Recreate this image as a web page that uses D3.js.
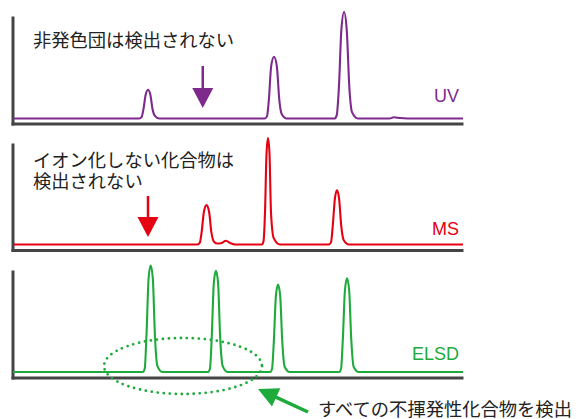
<!DOCTYPE html>
<html><head><meta charset="utf-8">
<script src="https://cdn.jsdelivr.net/npm/d3@7"></script>
<style>
html,body{margin:0;padding:0;background:#fff;}
svg{display:block;}
</style></head>
<body>
<script>
// ---- data (time in min, signal in % of panel max) ----
const uvTrace = [
  [0,0],[8.42,0],[8.58,1.5],[8.7,9],[8.84,22],[9.0,27],[9.16,22],[9.3,9],[9.46,2.5],[9.75,0],
  [16.78,0],[16.93,2],[17.06,18],[17.21,49],[17.4,58],[17.59,49],[17.75,18],[17.92,4],[18.25,0],
  [21.43,0],[21.58,3],[21.73,30],[21.89,83],[22.07,100],[22.25,83],[22.42,30],[22.6,6],[23.0,0],
  [25.1,0],[25.4,1.2],[25.8,0.4],[26.3,0],[30,0]
];
const msTrace = [
  [0,0],[12.3,0],[12.45,1.5],[12.58,12],[12.72,30],[12.9,37],[13.08,30],[13.22,12],[13.38,3],[13.6,1],
  [13.85,1.2],[14.2,3.5],[14.5,1.2],[14.8,0],
  [16.6,0],[16.7,3],[16.8,30],[16.9,85],[17.0,100],[17.1,85],[17.2,30],[17.38,6],[17.8,0],
  [21.05,0],[21.2,2],[21.32,18],[21.46,43],[21.6,51],[21.74,43],[21.88,18],[22.05,4],[22.4,0],[30,0]
];
const elsdTrace = [
  [0,0],[8.65,0],[8.78,3],[8.9,35],[9.04,88],[9.18,100],[9.32,88],[9.46,35],[9.62,6],[9.95,0],
  [13.0,0],[13.13,3],[13.25,33],[13.39,84],[13.53,95],[13.67,84],[13.81,33],[13.97,6],[14.3,0],
  [17.15,0],[17.27,3],[17.39,29],[17.53,72],[17.67,82],[17.81,72],[17.95,29],[18.11,5],[18.45,0],
  [21.75,0],[21.87,3],[21.99,31],[22.13,77],[22.27,88],[22.41,77],[22.55,31],[22.71,5],[23.05,0],[30,0]
];
const detectorLabels = ["UV","MS","ELSD"];
const noteUV = ["非発色団は検出されない"];
const noteMS = ["イオン化しない化合物は","検出されない"];
const noteELSD = "すべての不揮発性化合物を検出";
const arrowUVTime = 12.65;
const arrowMSTime = 9.0;
const ellipseTimes = [6.07, 16.6];

// ---- layout ----
const W = 579, H = 419;
const svg = d3.select("body").append("svg").attr("width", W).attr("height", H);
const x = d3.scaleLinear().domain([0,30]).range([13,463]);
const colors = {UV:"#7d2a8c", MS:"#e50012", ELSD:"#1faa3c"};
const panels = [
  {name:detectorLabels[0], data:uvTrace,   base:118.5, top:16,  axisY:123.5, labelY:102},
  {name:detectorLabels[1], data:msTrace,   base:244.5, top:143, axisY:250,   labelY:235},
  {name:detectorLabels[2], data:elsdTrace, base:372,   top:270, axisY:377.5, labelY:360}
];
const jpFont = "'Noto Sans CJK JP','Noto Sans',sans-serif";
const latinFont = "'Liberation Sans',Arial,sans-serif";

panels.forEach(p => {
  const y = d3.scaleLinear().domain([0,100]).range([p.base, p.base-106.5]);
  const frameY = d3.scaleLinear().domain([0,1]).range([p.axisY+1.5, p.top]);
  const xa = d3.scaleLinear().domain([0,30]).range([11, 463]);
  const gx = svg.append("g").attr("transform",`translate(0,${p.axisY})`)
    .call(d3.axisBottom(xa).tickValues([]).tickSizeOuter(0));
  const gy = svg.append("g").attr("transform",`translate(12.5,0)`)
    .call(d3.axisLeft(frameY).tickValues([]).tickSizeOuter(0));
  [gx,gy].forEach(g => g.select(".domain").attr("stroke","#444").attr("stroke-width",3));
  const line = d3.line().x(d=>x(d[0])).y(d=>y(d[1])).curve(d3.curveMonotoneX);
  svg.append("path").datum(p.data).attr("d",line)
    .attr("fill","none").attr("stroke",colors[p.name]).attr("stroke-width",2.1)
    .attr("stroke-linejoin","round");
  svg.append("text").attr("x",459).attr("y",p.labelY).attr("text-anchor","end")
    .attr("font-family",latinFont).attr("font-size",18).attr("fill",colors[p.name])
    .text(p.name);
});

// notes
function note(lines, x0, y0, lh){
  const t = svg.append("text").attr("font-family",jpFont).attr("font-size",18.3).attr("fill","#222");
  lines.forEach((s,i)=>t.append("tspan").attr("x",x0).attr("y",y0+i*lh).text(s));
}
note(noteUV, 33, 47, 21);
note(noteMS, 33, 167, 21);
note([noteELSD], 318, 416, 21);

// down arrows
function downArrow(px, y0, y1, color, headH, headW){
  svg.append("line").attr("x1",px).attr("x2",px).attr("y1",y0).attr("y2",y1-headH+1)
    .attr("stroke",color).attr("stroke-width",2.5);
  svg.append("path").attr("d",`M${px-headW/2},${y1-headH} L${px+headW/2},${y1-headH} L${px},${y1} Z`)
    .attr("fill",color);
}
downArrow(x(arrowUVTime), 66, 108, colors.UV, 20, 21);
downArrow(x(arrowMSTime), 196, 237, colors.MS, 20, 21);

// dotted ellipse
const ex0 = x(ellipseTimes[0]), ex1 = x(ellipseTimes[1]);
svg.append("ellipse").attr("cx",(ex0+ex1)/2).attr("cy",366).attr("rx",(ex1-ex0)/2).attr("ry",28)
  .attr("fill","none").attr("stroke",colors.ELSD).attr("stroke-width",2.8)
  .attr("stroke-dasharray","0 6").attr("stroke-linecap","round");

// green arrow
(function(){
  const tip=[258,389], tail=[308,412];
  const dx=tail[0]-tip[0], dy=tail[1]-tip[1], L=Math.hypot(dx,dy);
  const ux=dx/L, uy=dy/L, hl=20, hw=10;
  const bx=tip[0]+ux*hl, by=tip[1]+uy*hl;
  svg.append("line").attr("x1",tail[0]).attr("y1",tail[1]).attr("x2",bx-ux*1).attr("y2",by-uy*1)
    .attr("stroke",colors.ELSD).attr("stroke-width",3.5);
  svg.append("path").attr("d",`M${tip[0]},${tip[1]} L${bx-uy*hw},${by+ux*hw} L${bx+uy*hw},${by-ux*hw} Z`)
    .attr("fill",colors.ELSD);
})();
</script>
</body></html>
